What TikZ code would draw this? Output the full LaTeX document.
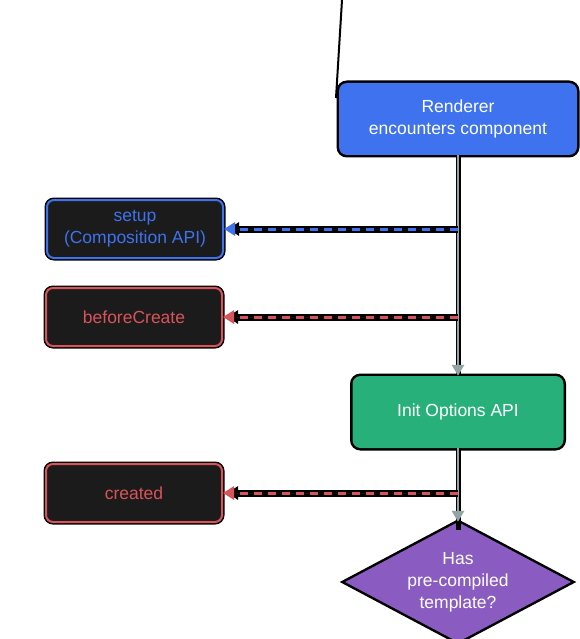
\documentclass[tikz,border=0pt]{standalone}
\usepackage{fontspec}
\setmainfont{Liberation Sans}
\usetikzlibrary{arrows.meta,shapes.geometric}
\definecolor{vblue}{HTML}{3E72EE}
\definecolor{vred}{HTML}{D9535B}
\definecolor{vgreen}{HTML}{27B07A}
\definecolor{vpurple}{HTML}{8A5CC2}
\definecolor{vgray}{HTML}{93A3A6}
\definecolor{vdark}{HTML}{1B1B1B}
\begin{document}
\begin{tikzpicture}[x=1pt,y=-1pt,
  txt/.style={font=\fontsize{17.5}{22}\selectfont, align=center},
  halo/.style={preaction={draw=black, line width=5pt}},
  flowbox/.style={txt, halo, rectangle, rounded corners=8pt, text=white, inner sep=0pt},
  hookbox/.style={txt, halo, rectangle, rounded corners=7pt, fill=vdark, line width=2pt,
    minimum width=176pt, minimum height=58pt, inner sep=0pt},
  mainline/.style={draw=vgray, line width=2.8pt, -{Triangle[length=11pt,width=12pt]}},
  hookline/.style={line width=3pt, dash pattern=on 8pt off 6pt,
    preaction={draw=black, line width=7pt, solid, shorten >=4pt},
    -{Triangle[length=11pt,width=13pt]}}
]
\useasboundingbox (0,0) rectangle (579,639);
\fill[white] (0,0) rectangle (579,639);

% stray black line at top
\draw[black, line width=2pt] (342,0) -- (336,98);

% nodes
\node[flowbox, fill=vblue, minimum width=238pt, minimum height=72pt] (rend) at (458,119)
  {Renderer\\encounters component};
\node[hookbox, draw=vblue, text=vblue] (setup) at (135,229) {setup\\(Composition API)};
\node[hookbox, draw=vred, text=vred] (bc) at (134,317) {beforeCreate};
\node[flowbox, fill=vgreen, minimum width=211pt, minimum height=72pt] (init) at (458,412)
  {Init Options API};
\node[hookbox, draw=vred, text=vred] (created) at (134,493) {created};
\node[txt, diamond, fill=vpurple, text=white, halo, inner sep=0pt, shape aspect=1.88,
  minimum width=226pt, minimum height=120pt] (tpl) at (458,582)
  {Has\\pre-compiled\\template?};

% junctions on main line
\coordinate (j1) at (458,229);
\coordinate (j2) at (458,317);
\coordinate (j3) at (458,493);

% main flow
\draw[draw=black, line width=5pt] (rend.south) -- (init.north);
\draw[mainline] (rend.south) -- (init.north);
\draw[draw=black, line width=5pt] (init.south) -- ([yshift=-8pt]tpl.north);
\draw[mainline] (init.south) -- (tpl.north);

% hooks
\draw[hookline, draw=vblue, fill=vblue] (j1) -- (setup.east);
\draw[hookline, draw=vred, fill=vred] (j2) -- (bc.east);
\draw[hookline, draw=vred, fill=vred] (j3) -- (created.east);
\end{tikzpicture}
\end{document}
